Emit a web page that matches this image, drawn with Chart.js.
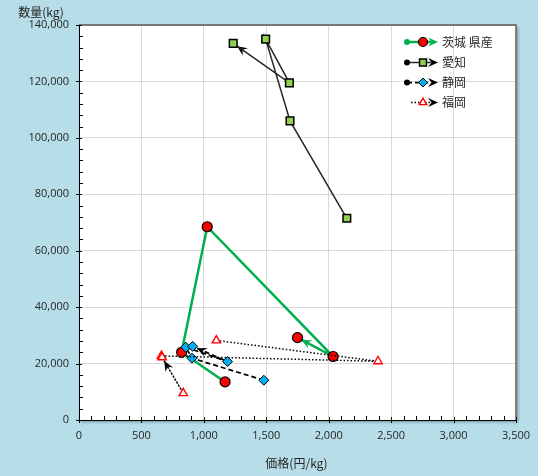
<!DOCTYPE html>
<html>
<head>
<meta charset="utf-8">
<script src="https://cdn.jsdelivr.net/npm/chart.js@4.4.0/dist/chart.umd.min.js"></script>
<style>
  html, body { margin: 0; padding: 0; background: #fff; }
  #wrap { width: 545px; height: 476px; }
</style>
</head>
<body>
<div id="wrap"><canvas id="myChart" width="545" height="476"></canvas></div>
<script>
  const seriesNames = ["茨城 県産", "愛知", "静岡", "福岡"];

  // price (yen/kg), quantity (kg)
  const ibarakiPrice = [1170, 822, 1027, 2035, 1750];
  const ibarakiQty = [13500, 24000, 68500, 22500, 29200];
  const aichiPrice = [2145, 1690, 1495, 1685, 1235];
  const aichiQty = [71500, 106000, 135000, 119500, 133500];
  const shizuokaPrice = [1480, 905, 855, 1190, 910];
  const shizuokaQty = [14100, 21900, 25800, 20700, 26100];
  const fukuokaPrice = [1100, 2395, 660, 835, 665];
  const fukuokaQty = [28200, 20800, 22700, 9500, 22200];

  const xTitle = "価格(円/kg)";
  const yTitle = "数量(kg)";
  const xMax = 3500, xStep = 500, xMinorStep = 100;
  const yMax = 140000, yStep = 20000, yMinorStep = 4000;

  const toPoints = (xs, ys) => xs.map((x, i) => ({ x: x, y: ys[i] }));

  const numFont = { family: "'Open Sans', 'Noto Sans', sans-serif", size: 11 };
  const jpFont = "12px 'Noto Sans CJK JP', 'Noto Sans', sans-serif";
  const textColor = "#262626";

  const styles = [
    { line: "#00b050", width: 2.5, dash: [], point: "circle", r: 5, fill: "#ff0000", stroke: "#000", sw: 1.2, arrow: "#00b050", startDot: "#00b050" },
    { line: "#262626", width: 1.5, dash: [], point: "rect", r: 5.4, fill: "#92d050", stroke: "#000", sw: 1.5, arrow: "#000", startDot: "#000" },
    { line: "#000", width: 1.75, dash: [5, 3], point: "rectRot", r: 5, fill: "#00b0f0", stroke: "#000", sw: 1, arrow: "#000", startDot: "#000" },
    { line: "#000", width: 1.5, dash: [1.5, 2], point: "triangle", r: 4.8, fill: "#fff", stroke: "#ff0000", sw: 1.4, arrow: "#000", startDot: null },
  ];

  const seriesData = [
    toPoints(ibarakiPrice, ibarakiQty),
    toPoints(aichiPrice, aichiQty),
    toPoints(shizuokaPrice, shizuokaQty),
    toPoints(fukuokaPrice, fukuokaQty),
  ];

  function arrowHead(ctx, tx, ty, ux, uy, len, half, color) {
    const nx = -uy, ny = ux;
    const bx = tx - ux * len, by = ty - uy * len;
    ctx.save();
    ctx.setLineDash([]);
    ctx.fillStyle = color;
    ctx.beginPath();
    ctx.moveTo(tx, ty);
    ctx.lineTo(bx + nx * half, by + ny * half);
    ctx.lineTo(tx - ux * len * 0.65, ty - uy * len * 0.65);
    ctx.lineTo(bx - nx * half, by - ny * half);
    ctx.closePath();
    ctx.fill();
    ctx.restore();
  }

  const decor = {
    id: "decor",
    beforeDraw(chart) {
      const { ctx, chartArea: a } = chart;
      ctx.save();
      ctx.fillStyle = "#b7dee8";
      ctx.fillRect(0, 0, 538, chart.height);
      ctx.shadowColor = "rgba(0,0,0,0.35)";
      ctx.shadowBlur = 3;
      ctx.shadowOffsetX = 2;
      ctx.shadowOffsetY = 2;
      ctx.fillStyle = "#fff";
      ctx.fillRect(a.left, a.top, a.right - a.left, a.bottom - a.top);
      ctx.restore();
    },
    beforeDatasetsDraw(chart) {
      // arrow heads at the last segment of each series
      const ctx = chart.ctx;
      chart.data.datasets.forEach((ds, i) => {
        const pts = chart.getDatasetMeta(i).data;
        const last = pts[pts.length - 1], prev = pts[pts.length - 2];
        const dx = last.x - prev.x, dy = last.y - prev.y;
        const d = Math.hypot(dx, dy);
        const ux = dx / d, uy = dy / d;
        const off = styles[i].r * 0.9;
        arrowHead(ctx, last.x - ux * off, last.y - uy * off, ux, uy, 10, 4.5, styles[i].arrow);
      });
    },
    afterDraw(chart) {
      const { ctx, chartArea: a } = chart;
      const xs = chart.scales.x, ys = chart.scales.y;
      ctx.save();

      // plot border top/right
      ctx.strokeStyle = "#595959";
      ctx.lineWidth = 1.5;
      ctx.beginPath();
      ctx.moveTo(a.left, a.top);
      ctx.lineTo(a.right, a.top);
      ctx.lineTo(a.right, a.bottom);
      ctx.stroke();

      // tick marks
      ctx.strokeStyle = "#000";
      ctx.lineWidth = 1;
      ctx.beginPath();
      for (let v = 0; v <= xMax; v += xMinorStep) {
        const px = Math.round(xs.getPixelForValue(v)) + 0.5;
        const major = v % xStep === 0;
        ctx.moveTo(px, a.bottom + (major ? 3 : 0));
        ctx.lineTo(px, a.bottom - (major ? 3 : 4));
      }
      for (let v = 0; v <= yMax; v += yMinorStep) {
        const py = Math.round(ys.getPixelForValue(v)) + 0.5;
        const major = v % yStep === 0;
        ctx.moveTo(a.left - (major ? 3 : 0), py);
        ctx.lineTo(a.left + (major ? 3 : 4), py);
      }
      ctx.stroke();

      // axis titles
      ctx.fillStyle = textColor;
      ctx.font = jpFont;
      ctx.textAlign = "center";
      ctx.textBaseline = "middle";
      ctx.fillText(yTitle, 41, 12);
      ctx.fillText(xTitle, (a.left + a.right) / 2 - 1, 463);

      // legend
      const rows = [42, 62.5, 82.5, 102.5];
      seriesNames.forEach((name, i) => {
        const s = styles[i];
        const y = rows[i];
        const x0 = s.startDot ? 407 : 411, x1 = 431;
        ctx.save();
        ctx.strokeStyle = s.line;
        ctx.lineWidth = s.width;
        ctx.setLineDash(s.dash);
        ctx.beginPath();
        ctx.moveTo(x0, y);
        ctx.lineTo(x1, y);
        ctx.stroke();
        ctx.restore();
        if (s.startDot) {
          ctx.fillStyle = s.startDot;
          ctx.beginPath();
          ctx.arc(407, y, 3, 0, Math.PI * 2);
          ctx.fill();
        }
        arrowHead(ctx, 438, y, 1, 0, 10, 4.5, s.arrow);
        ctx.save();
        ctx.fillStyle = s.fill;
        ctx.strokeStyle = s.stroke;
        ctx.lineWidth = s.sw;
        Chart.helpers.drawPoint(ctx, { pointStyle: s.point, radius: s.r - 0.5, borderWidth: s.sw }, 423, y);
        ctx.restore();
        ctx.fillStyle = textColor;
        ctx.font = jpFont;
        ctx.textAlign = "left";
        ctx.textBaseline = "middle";
        ctx.fillText(name, 442, y);
      });
      ctx.restore();
    },
  };

  const ctx = document.getElementById("myChart");

  const chart = new Chart(ctx, {
    type: "scatter",
    data: {
      datasets: seriesData.map((pts, i) => ({
        label: seriesNames[i],
        data: pts,
        showLine: true,
        borderColor: styles[i].line,
        borderWidth: styles[i].width,
        borderDash: styles[i].dash,
        tension: 0,
        pointStyle: styles[i].point,
        pointRadius: styles[i].r,
        pointHoverRadius: styles[i].r,
        pointBackgroundColor: styles[i].fill,
        pointBorderColor: styles[i].stroke,
        pointBorderWidth: styles[i].sw,
        order: seriesData.length - i,
      })),
    },
    options: {
      responsive: false,
      animation: false,
      events: [],
      layout: {
        padding: { top: 25, right: 29, bottom: 0, left: 0 },
      },
      scales: {
        x: {
          type: "linear",
          min: 0,
          max: xMax,
          afterFit(scale) {
            scale.height = 56;
          },
          grid: {
            color: "#d9d9d9",
            drawTicks: false,
          },
          border: {
            color: "#000",
            width: 1,
          },
          ticks: {
            stepSize: xStep,
            padding: 9,
            maxRotation: 0,
            color: textColor,
            font: numFont,
            callback: (v) => v.toLocaleString("en-US"),
          },
        },
        y: {
          type: "linear",
          min: 0,
          max: yMax,
          afterFit(scale) {
            scale.width = 79;
          },
          grid: {
            color: "#d9d9d9",
            drawTicks: false,
          },
          border: {
            color: "#000",
            width: 1,
          },
          ticks: {
            stepSize: yStep,
            padding: 10,
            color: textColor,
            font: numFont,
            callback: (v) => v.toLocaleString("en-US"),
          },
        },
      },
      plugins: {
        legend: {
          display: false,
        },
        tooltip: {
          enabled: false,
        },
      },
    },
    plugins: [decor],
  });
</script>
</body>
</html>
